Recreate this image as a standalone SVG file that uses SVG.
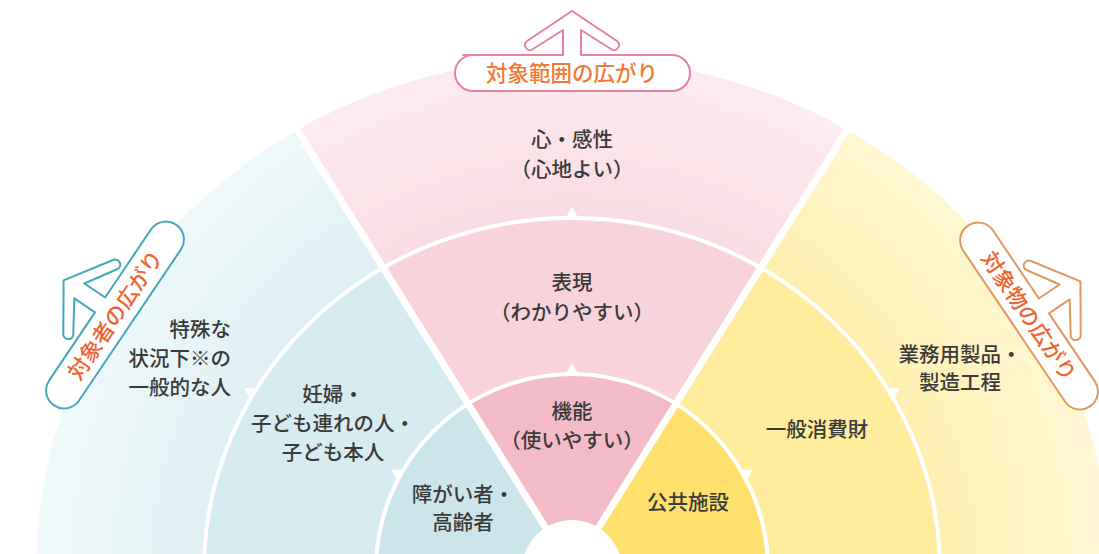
<svg xmlns="http://www.w3.org/2000/svg" width="1099" height="554" viewBox="0 0 1099 554">
<defs>
<style>
.t{font-family:"Noto Sans CJK JP","Noto Sans",sans-serif;font-size:20.5px;font-weight:500;fill:#3a3a3a}
.c{text-anchor:middle}
.e{text-anchor:end}
.lbl{font-family:"Noto Sans CJK JP","Noto Sans",sans-serif;font-size:21.5px;font-weight:500;text-anchor:middle}
.ring{fill:none;stroke:#fff;stroke-width:4}
.sep{stroke:#fff;stroke-width:7}
.tri{fill:#fff}
.box{fill:#fff;stroke-width:2;stroke-linejoin:round}
</style>
<radialGradient id="gB" gradientUnits="userSpaceOnUse" cx="572" cy="570" r="540">
<stop offset="0.66" stop-color="#DFF0F4"/><stop offset="1" stop-color="#F0F9FA"/>
</radialGradient>
<radialGradient id="gP" gradientUnits="userSpaceOnUse" cx="572" cy="570" r="540">
<stop offset="0.66" stop-color="#FADDE4"/><stop offset="1" stop-color="#FDEEF1"/>
</radialGradient>
<radialGradient id="gY" gradientUnits="userSpaceOnUse" cx="572" cy="570" r="540">
<stop offset="0.66" stop-color="#FFF0AE"/><stop offset="1" stop-color="#FFF8D6"/>
</radialGradient>
<path id="badge" d="M -9 -18 L -9 -43 L -39 -24 A 5 5 0 0 1 -45 -32 L 0 -62 L 45 -32 A 5 5 0 0 1 39 -24 L 9 -43 L 9 -18 L 91 -18 A 18 18 0 0 1 91 18 L -91 18 A 18 18 0 0 1 -91 -18 Z"/>
</defs>

<g id="blue-outer">
<path d="M 572 570 L 36 570 A 536 512 0 0 1 297.5 130.3 Z" fill="url(#gB)"/>
<text class="t e" x="231" y="337">特殊な</text>
<text class="t e" x="231" y="366">状況下※の</text>
<text class="t e" x="231" y="395">一般的な人</text>
</g>
<g id="pink-outer">
<path d="M 572 570 L 297 129.9 A 538 512 0 0 1 847 129.9 Z" fill="url(#gP)"/>
<text class="t c" x="572" y="147">心・感性</text>
<text class="t c" x="572" y="177">（心地よい）</text>
</g>
<g id="yellow-outer">
<path d="M 572 570 L 847 129.9 A 538 512 0 0 1 1110 570 Z" fill="url(#gY)"/>
<text class="t c" x="960" y="362">業務用製品・</text>
<text class="t c" x="960" y="390">製造工程</text>
</g>

<g id="blue-middle">
<path d="M 572 570 L 204 570 A 368 352 0 0 1 383.2 267.9 Z" fill="#D7ECF0"/>
<text class="t c" x="333" y="402">妊婦・</text>
<text class="t c" x="333" y="431">子ども連れの人・</text>
<text class="t c" x="333" y="460">子ども本人</text>
</g>
<g id="pink-middle">
<path d="M 572 570 L 383.2 267.9 A 368 352 0 0 1 760.8 267.9 Z" fill="#F8D3DB"/>
<text class="t c" x="572" y="290">表現</text>
<text class="t c" x="572" y="320">（わかりやすい）</text>
</g>
<g id="yellow-middle">
<path d="M 572 570 L 760.8 267.9 A 368 352 0 0 1 940 570 Z" fill="#FFEC9C"/>
<text class="t c" x="817" y="437">一般消費財</text>
</g>

<g id="blue-inner">
<path d="M 572 570 L 376 570 A 196 196 0 0 1 468.1 403.8 Z" fill="#CBE5EB"/>
<text class="t c" x="463" y="502">障がい者・</text>
<text class="t c" x="463" y="530">高齢者</text>
</g>
<g id="pink-inner">
<path d="M 572 570 L 468.1 403.8 A 196 196 0 0 1 675.9 403.8 Z" fill="#F3BAC8"/>
<text class="t c" x="572" y="419">機能</text>
<text class="t c" x="572" y="448">（使いやすい）</text>
</g>
<g id="yellow-inner">
<path d="M 572 570 L 675.9 403.8 A 196 196 0 0 1 768 570 Z" fill="#FFE06C"/>
<text class="t c" x="688" y="510">公共施設</text>
</g>

<g id="dividers">
<path class="ring" d="M 204 570 A 368 352 0 0 1 940 570"/>
<path class="ring" d="M 376 570 A 196 196 0 0 1 768 570"/>
<line class="sep" x1="572" y1="570" x2="297" y2="129.9"/>
<line class="sep" x1="572" y1="570" x2="847" y2="129.9"/>
<polygon class="tri" points="572,207 565,219 579,219"/>
<polygon class="tri" points="572,363 565,375 579,375"/>
<polygon class="tri" points="900,388.2 892.9,400.1 886.1,387.9"/>
<polygon class="tri" points="753,469.7 745.9,481.6 739.2,469.4"/>
<polygon class="tri" points="244,388.2 251.1,400.1 257.9,387.9"/>
<polygon class="tri" points="391,469.7 398.1,481.6 404.8,469.4"/>
<circle cx="572" cy="570" r="50" fill="#fff"/>
</g>

<g id="label-top">
<path class="box" stroke="#E8819B" d="M 463 55 L 563 55 L 563 30 L 533 49 A 5 5 0 0 1 527 41 L 572 11 L 617 41 A 5 5 0 0 1 611 49 L 581 30 L 581 55 L 672 55 A 18 18 0 0 1 672 91 L 473 91 A 18 18 0 0 1 473 55 Z"/>
<text class="lbl" x="572" y="80.5" fill="#F07A35">対象範囲の広がり</text>
</g>
<g id="label-left" transform="translate(115,315) rotate(-56)">
<use href="#badge" class="box" stroke="#45A8B8"/>
<text class="lbl" x="0" y="8" fill="#EE6430">対象者の広がり</text>
</g>
<g id="label-right" transform="translate(1029,316) rotate(56)">
<use href="#badge" class="box" stroke="#E0985E"/>
<text class="lbl" x="0" y="8" fill="#EE6430">対象物の広がり</text>
</g>
</svg>
